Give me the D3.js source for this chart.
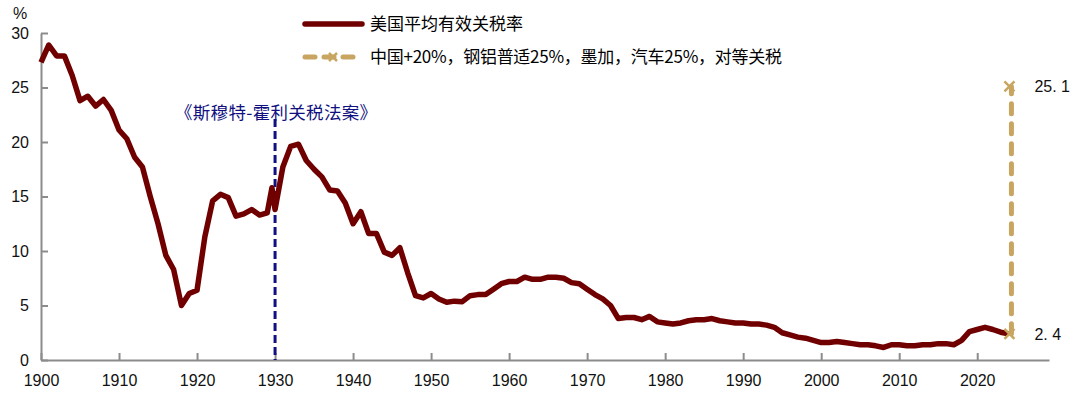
<!DOCTYPE html>
<meta charset="utf-8">
<style>
body { margin: 0; background: #fff; }
text { font-family: "Noto Sans CJK SC", "Liberation Sans", sans-serif; }
.axis text { font-family: "Liberation Sans", Arial, sans-serif; font-size: 16px; fill: #111; }
</style>
<svg width="1080" height="394"></svg>
<script src="https://d3js.org/d3.v7.min.js"></script>
<script>

// effective tariff rate, % (1929.6 = the short spike just before 1930)
var years = [1900,1901,1902,1903,1904,1905,1906,1907,1908,1909,
  1910,1911,1912,1913,1914,1915,1916,1917,1918,1919,
  1920,1921,1922,1923,1924,1925,1926,1927,1928,1929,1929.6,
  1930,1931,1932,1933,1934,1935,1936,1937,1938,1939,
  1940,1941,1942,1943,1944,1945,1946,1947,1948,1949,
  1950,1951,1952,1953,1954,1955,1956,1957,1958,1959,
  1960,1961,1962,1963,1964,1965,1966,1967,1968,1969,
  1970,1971,1972,1973,1974,1975,1976,1977,1978,1979,
  1980,1981,1982,1983,1984,1985,1986,1987,1988,1989,
  1990,1991,1992,1993,1994,1995,1996,1997,1998,1999,
  2000,2001,2002,2003,2004,2005,2006,2007,2008,2009,
  2010,2011,2012,2013,2014,2015,2016,2017,2018,2019,
  2020,2021,2022,2023,2024];
var rates = [27.3,28.9,27.9,27.9,26.1,23.8,24.2,23.3,23.9,22.9,
  21.1,20.3,18.6,17.7,15.0,12.5,9.6,8.3,5.0,6.1,
  6.4,11.3,14.6,15.2,14.9,13.2,13.4,13.8,13.3,13.5,15.8,
  13.8,17.7,19.6,19.8,18.3,17.5,16.8,15.6,15.5,14.4,
  12.5,13.6,11.6,11.6,9.9,9.6,10.3,8.0,5.9,5.7,
  6.1,5.6,5.3,5.4,5.35,5.9,6.0,6.0,6.5,7.0,
  7.2,7.2,7.6,7.4,7.4,7.6,7.6,7.5,7.1,7.0,
  6.5,6.0,5.6,5.0,3.8,3.9,3.9,3.7,4.0,3.5,
  3.4,3.3,3.4,3.6,3.7,3.7,3.8,3.6,3.5,3.4,
  3.4,3.3,3.3,3.2,3.0,2.5,2.3,2.1,2.0,1.8,
  1.6,1.6,1.7,1.6,1.5,1.4,1.4,1.3,1.15,1.4,
  1.4,1.3,1.3,1.4,1.4,1.5,1.5,1.4,1.8,2.6,
  2.8,3.0,2.8,2.55,2.4];

// scenario: current rate -> rate after new tariffs
var scenarioYears = [2024, 2024];
var scenarioRates = [2.4, 25.1];

var xTicks = [1900,1910,1920,1930,1940,1950,1960,1970,1980,1990,2000,2010,2020];
var yTicks = [0,5,10,15,20,25,30];

var seriesNames = ["美国平均有效关税率", "中国+20%，钢铝普适25%，墨加，汽车25%，对等关税"];
var actYear = 1930;
var actLabel = "《斯穆特-霍利关税法案》";

var red = "#700000", gold = "#c8a662", navy = "#101080";

var svg = d3.select("svg");
var mLeft = 41, mRight = 1049, mTop = 33, mBottom = 360;

var x = d3.scaleLinear().domain([1900, 2029.2]).range([mLeft, mRight]);
var y = d3.scaleLinear().domain([0, 30]).range([mBottom, mTop]);

// axes
svg.append("g")
    .attr("class", "axis")
    .attr("transform", "translate(0," + mBottom + ")")
    .call(d3.axisBottom(x).tickValues(xTicks).tickFormat(d3.format("d"))
      .tickSizeInner(-7).tickSizeOuter(0).tickPadding(15));

svg.append("g")
    .attr("class", "axis")
    .attr("transform", "translate(" + mLeft + ",0)")
    .call(d3.axisLeft(y).tickValues(yTicks).tickSizeInner(-7).tickSizeOuter(0).tickPadding(12));

svg.selectAll(".axis .domain, .axis line").attr("stroke", "#8c8c8c").attr("stroke-width", 2);

svg.append("text")
    .attr("x", 13).attr("y", 19)
    .style("font-family", "Liberation Sans, Arial, sans-serif")
    .style("font-size", "16px")
    .attr("fill", "#111")
    .text("%");

// Smoot-Hawley marker
svg.append("line")
    .attr("x1", x(actYear)).attr("x2", x(actYear))
    .attr("y1", 119).attr("y2", mBottom)
    .attr("stroke", navy).attr("stroke-width", 3)
    .attr("stroke-dasharray", "8,4");

svg.append("text")
    .attr("x", 175).attr("y", 119)
    .attr("fill", navy)
    .attr("textLength", 202)
    .style("font-size", "17.5px")
    .text(actLabel);

// main line
var pts = years.map(function(d, i) { return [d, rates[i]]; });
var line = d3.line()
    .x(function(d) { return x(d[0]); })
    .y(function(d) { return y(d[1]); });

svg.append("path")
    .datum(pts)
    .attr("d", line)
    .attr("fill", "none")
    .attr("stroke", red)
    .attr("stroke-width", 5.5)
    .attr("stroke-linejoin", "round");

// scenario dashed line
var spts = scenarioYears.map(function(d, i) { return [d, scenarioRates[i]]; });
svg.append("path")
    .datum(spts)
    .attr("d", line)
    .attr("transform", "translate(3,0)")
    .attr("fill", "none")
    .attr("stroke", gold)
    .attr("stroke-width", 5)
    .attr("stroke-linecap", "round")
    .attr("stroke-dasharray", "10,10");

function cross(g, cx, cy, s) {
  g.append("path")
      .attr("d", "M" + (cx - s) + "," + (cy - s) + "L" + (cx + s) + "," + (cy + s) +
                 "M" + (cx - s) + "," + (cy + s) + "L" + (cx + s) + "," + (cy - s))
      .attr("stroke", gold).attr("stroke-width", 2.5).attr("fill", "none");
}

spts.forEach(function(d) {
  cross(svg, x(d[0]) + 1, y(d[1]), 5);
  svg.append("text")
      .attr("x", x(d[0]) + 26).attr("y", y(d[1]) + 6)
      .style("font-family", "Liberation Sans, Arial, sans-serif")
      .style("font-size", "16px")
      .attr("fill", "#111")
      .text(d3.format(".1f")(d[1]).replace(".", ". "));
});

// legend
var lg = svg.append("g");
lg.append("line")
    .attr("x1", 305).attr("x2", 362).attr("y1", 24).attr("y2", 24)
    .attr("stroke", red).attr("stroke-width", 5.5).attr("stroke-linecap", "round");
lg.append("text").attr("x", 370).attr("y", 30).style("font-size", "17px").text(seriesNames[0]);

lg.append("line")
    .attr("x1", 305).attr("x2", 361).attr("y1", 57).attr("y2", 57)
    .attr("stroke", gold).attr("stroke-width", 5).attr("stroke-linecap", "round")
    .attr("stroke-dasharray", "10,9");
cross(lg, 333, 57, 4);
lg.append("text").attr("x", 370).attr("y", 63).attr("textLength", 412).style("font-size", "17px").text(seriesNames[1]);

</script>
